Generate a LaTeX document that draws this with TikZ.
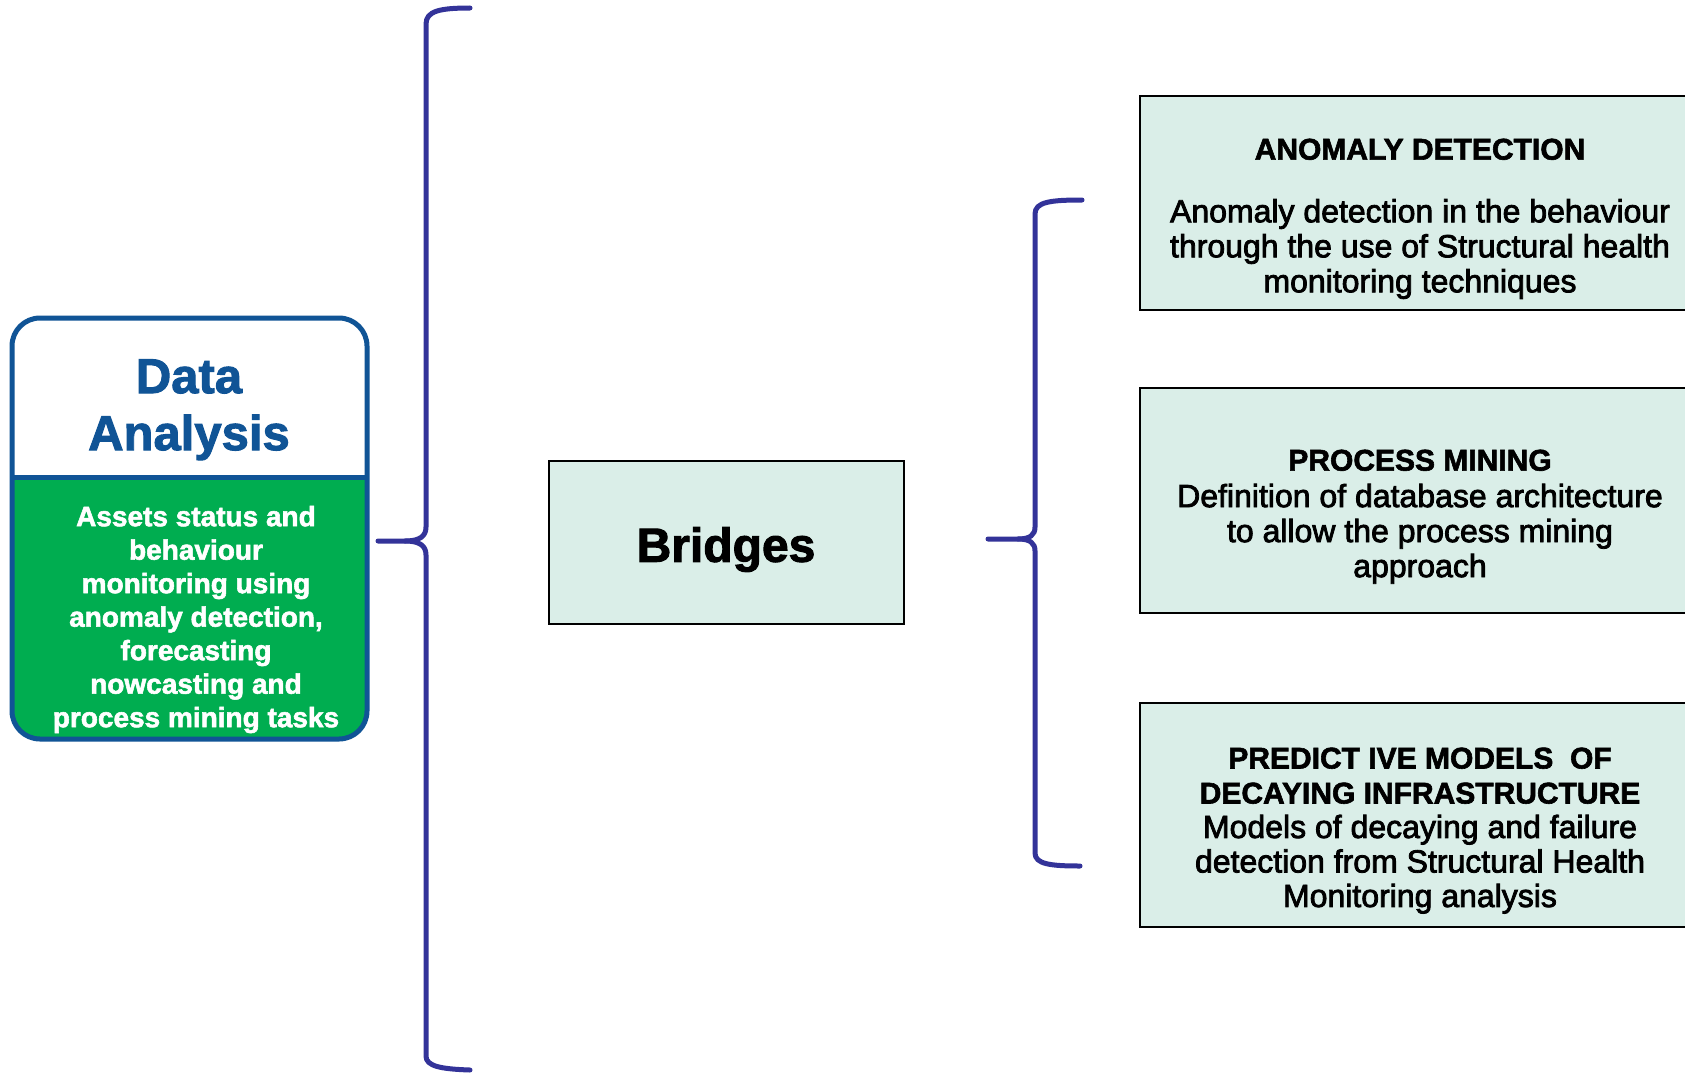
\documentclass[tikz,border=0pt]{standalone}
\usepackage{fontspec}
\setmainfont{Liberation Sans}
\setsansfont{Liberation Sans}
\newfontfamily\bodyfont[FakeBold=2.5]{Liberation Sans}
\newfontfamily\headfont[FakeBold=2]{Liberation Sans Bold}
\usetikzlibrary{calc}

\definecolor{bracecol}{RGB}{51,51,153}
\definecolor{dablue}{RGB}{16,84,150}
\definecolor{dagreen}{RGB}{0,173,80}
\definecolor{mint}{RGB}{218,238,232}

\tikzset{
  brace/.style={draw=bracecol, line width=5pt, line cap=round, line join=round},
  infobox/.style={draw=black, line width=2pt, fill=mint, rectangle, inner sep=0pt, anchor=north west},
  titletext/.style={font=\headfont\fontsize{30}{35}\selectfont, align=center, inner sep=0pt, text=black},
  bodytext/.style={font=\bodyfont\fontsize{32}{35}\selectfont, align=center, inner sep=0pt, text=black},
}

\begin{document}
\begin{tikzpicture}[x=1pt,y=1pt]
  \clip (0,0) rectangle (1685,-1073);
  \fill[white] (0,0) rectangle (1685,-1073);

  % Data analysis card: white header over a green body
  \node[fill=white, rounded corners=28pt, minimum width=355pt, minimum height=421pt,
        inner sep=0pt, outer sep=0pt] (da) at (189.5,-528.5) {};
  \coordinate (divleft) at ($(da.south west)+(0,262)$);
  \coordinate (divright) at ($(da.south east)+(0,262)$);
  \begin{scope}
    \clip[rounded corners=28pt] (da.south west) rectangle (da.north east);
    \fill[dagreen] (da.south west) rectangle (divright);
    \draw[dablue, line width=5pt] (divleft) -- (divright);
  \end{scope}
  \draw[dablue, line width=5pt, rounded corners=28pt] (da.south west) rectangle (da.north east);

  \node[font=\headfont\fontsize{49}{57}\selectfont, text=dablue, align=center, inner sep=0pt]
    (datitle) at (189,-409.8) {Data\\Analysis};
  \node[font=\headfont\fontsize{28}{33.5}\selectfont, text=white, align=center, inner sep=0pt]
    (dabody) at (196,-619.5)
    {Assets status and\\behaviour\\monitoring using\\anomaly detection,\\forecasting\\nowcasting and\\process mining tasks};

  % Bridges
  \node[infobox, minimum width=355pt, minimum height=163pt] (br) at (548,-460) {};
  \node[font=\headfont\fontsize{48}{52}\selectfont, inner sep=0pt] (brtext) at (726,-549.5) {Bridges};

  % Activity boxes
  \node[infobox, minimum width=562pt, minimum height=214pt] (ad) at (1139,-95) {};
  \node[titletext] (adtitle) at (1420,-149.3) {ANOMALY DETECTION};
  \node[bodytext] (adbody) at (1420,-249)
    {Anomaly detection in the behaviour\\through the use of Structural health\\monitoring techniques};

  \node[infobox, minimum width=562pt, minimum height=225pt] (pm) at (1139,-387) {};
  \node[titletext] (pmtitle) at (1420,-460.3) {PROCESS MINING};
  \node[bodytext] (pmbody) at (1420,-533.8)
    {Definition of database architecture\\to allow the process mining\\approach};

  \node[infobox, minimum width=562pt, minimum height=224pt] (pr) at (1139,-702) {};
  \node[titletext] (prtitle) at (1420,-775.7) {PREDICT IVE MODELS\ \ OF\\DECAYING INFRASTRUCTURE};
  \node[bodytext, font=\bodyfont\fontsize{32}{34.5}\selectfont] (prbody) at (1420,-864.2)
    {Models of decaying and failure\\detection from Structural Health\\Monitoring analysis};

  % Large brace joining the data card to the bridges
  \coordinate (bigtip) at (378,-541);
  \draw[brace] (470,-8) .. controls (440,-8) and (426,-11) .. (426,-24)
    -- (426,-527) .. controls (426,-536) and (420,-541) .. (405,-541) -- (bigtip);
  \draw[brace] (405,-541) .. controls (420,-541) and (426,-546) .. (426,-555)
    -- (426,-1056) .. controls (426,-1066) and (440,-1069) .. (470,-1070);

  % Brace grouping the three activities
  \coordinate (smalltip) at (988,-539);
  \draw[brace] (1082,-200) .. controls (1050,-200) and (1035,-202) .. (1035,-214)
    -- (1035,-527) .. controls (1035,-535) and (1030,-539) .. (1018,-539) -- (smalltip);
  \draw[brace] (1018,-539) .. controls (1030,-539) and (1035,-543) .. (1035,-551)
    -- (1035,-853) .. controls (1035,-864) and (1050,-866) .. (1080,-866);
\end{tikzpicture}
\end{document}
